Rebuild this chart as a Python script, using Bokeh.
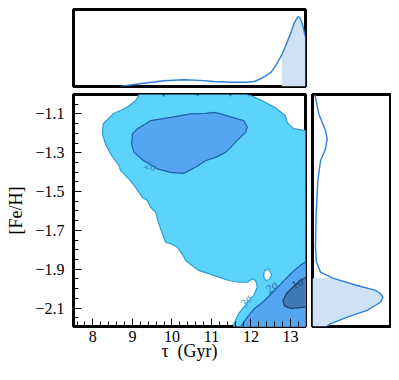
import numpy as np
from bokeh.plotting import figure
from bokeh.layouts import column, row
from bokeh.models import FixedTicker, Range1d
from bokeh.core.properties import value
from bokeh.embed import file_html
from bokeh.resources import INLINE

# ---------------- data ----------------
x_ticks = [8, 9, 10, 11, 12, 13]
x_tick_labels = ["8", "9", "10", "11", "12", "13"]
y_ticks = [-1.1, -1.3, -1.5, -1.7, -1.9, -2.1]
y_tick_labels = ["\u22121.1", "\u22121.3", "\u22121.5", "\u22121.7", "\u22121.9", "\u22122.1"]
x_label = "\u03c4\u2002(Gyr)"
y_label = "[Fe/H]"

# 3-sigma (outer) contour
sig3_x = [9.16, 9.71, 9.79, 9.89, 10.55, 10.65, 10.75, 11.38, 11.48, 11.58,
          11.99, 12.29, 12.62, 12.87, 12.92, 13.08, 13.38, 13.45, 13.45, 11.53,
          11.57, 11.69, 11.82, 11.95, 12.07, 12.16, 12.12, 12.03, 11.91, 11.69,
          11.44, 11.19, 10.93, 10.68, 10.51, 10.35, 10.26, 10.14, 9.97, 9.84,
          9.76, 9.67, 9.59, 9.46, 9.38, 9.25, 9.08, 8.91, 8.70, 8.66,
          8.45, 8.32, 8.24, 8.26, 8.52, 8.87, 9.08, 9.16]
sig3_y = [-0.98, -0.98, -1.011, -0.98, -0.98, -1.009, -0.98, -0.98, -1.009, -0.98,
          -1.006, -1.032, -1.068, -1.109, -1.145, -1.176, -1.186, -1.19, -2.25, -2.25,
          -2.181, -2.129, -2.095, -2.061, -2.035, -1.992, -1.958, -1.949, -1.967, -1.967,
          -1.958, -1.941, -1.923, -1.906, -1.881, -1.855, -1.821, -1.787, -1.769, -1.761,
          -1.718, -1.666, -1.607, -1.581, -1.546, -1.529, -1.478, -1.435, -1.392, -1.366,
          -1.306, -1.255, -1.203, -1.152, -1.099, -1.066, -1.032, -1.006]
hole_x = [12.34, 12.44, 12.52, 12.47, 12.37, 12.32]
hole_y = [-1.907, -1.899, -1.927, -1.953, -1.958, -1.937]

# 2-sigma contours (upper blob and lower-right region)
sig2a_x = [8.98, 9.00, 9.12, 9.46, 9.97, 10.47, 10.85, 11.05, 11.19, 11.53,
           11.82, 11.91, 11.86, 11.69, 11.53, 11.36, 11.10, 10.85, 10.60, 10.43,
           10.30, 9.97, 9.63, 9.29, 9.04]
sig2a_y = [-1.253, -1.203, -1.178, -1.135, -1.118, -1.100, -1.097, -1.092, -1.097, -1.118,
           -1.135, -1.169, -1.195, -1.229, -1.263, -1.298, -1.324, -1.341, -1.375, -1.392,
           -1.406, -1.401, -1.383, -1.341, -1.298]
sig2b_x = [11.70, 11.74, 11.91, 12.09, 12.32, 12.55, 12.79, 13.04, 13.30, 13.45, 13.45]
sig2b_y = [-2.25, -2.195, -2.147, -2.102, -2.066, -2.020, -1.968, -1.917, -1.872, -1.855, -2.25]

# 1-sigma contour
sig1_x = [13.45, 13.25, 13.05, 12.90, 12.81, 12.85, 13.00, 13.20, 13.45]
sig1_y = [-1.935, -1.958, -1.994, -2.025, -2.061, -2.089, -2.102, -2.099, -2.092]

# contour labels
lab_text = ["2\u03c3", "3\u03c3", "2\u03c3", "1\u03c3"]
lab_x = [9.46, 11.88, 12.52, 13.17]
lab_y = [-1.366, -2.064, -1.992, -1.972]
lab_angle = [-0.3, 0.9, 0.7, 0.6]
lab_color = ["#3f86c8", "#3aa6d6", "#2a66b0", "#1d4a80"]

# marginal of tau
tau_grid = [8.70, 9.00, 9.29, 9.80, 10.30, 10.70, 11.06, 11.50, 11.90, 12.10,
            12.24, 12.38, 12.51, 12.62, 12.78, 12.87, 13.00, 13.10, 13.19, 13.24,
            13.30, 13.38]
tau_pdf = [0.0, 0.022, 0.043, 0.075, 0.087, 0.080, 0.065, 0.056, 0.056, 0.068,
           0.100, 0.140, 0.186, 0.265, 0.410, 0.520, 0.684, 0.830, 0.909, 0.890,
           0.814, 0.640]
tau_shade_min = 12.78

# marginal of [Fe/H]
feh_grid = [-1.000, -1.015, -1.100, -1.186, -1.229, -1.280, -1.341, -1.444, -1.615, -1.787,
            -1.864, -1.915, -1.946, -1.984, -2.009, -2.025, -2.044, -2.070, -2.112, -2.147,
            -2.181, -2.195]
feh_pdf = [0.030, 0.038, 0.081, 0.167, 0.188, 0.167, 0.103, 0.068, 0.047, 0.038,
           0.051, 0.103, 0.260, 0.573, 0.808, 0.870, 0.902, 0.872, 0.701, 0.445,
           0.231, 0.180]
feh_shade_max = -1.946

# ---------------- styles ----------------
SERIF = "Liberation Serif"
C3_FILL, C3_LINE = "#5cd3fa", "#2b9fcf"
C2_FILL, C2_LINE = "#55a6f0", "#1f5fa8"
C1_FILL, C1_LINE = "#3f78b4", "#1a3f70"
M_LINE, M_FILL = "#2f7ed8", "#cfe1f4"

x_range = Range1d(7.51, 13.38)
y_range = Range1d(-2.195, -1.0)

# ---------------- main panel ----------------
p = figure(frame_width=232, frame_height=232, x_range=x_range, y_range=y_range,
           output_backend="svg", toolbar_location=None,
           min_border_left=73, min_border_right=3, min_border_top=4, min_border_bottom=46)
p.grid.visible = False
p.outline_line_color = "black"
p.outline_line_width = 3
p.outline_line_alpha = 1

p.patch(sig3_x, sig3_y, fill_color=C3_FILL, line_color=C3_LINE, line_width=1.2)
p.patch(hole_x, hole_y, fill_color="white", line_color=C3_LINE, line_width=1.2)
p.patch(sig2a_x, sig2a_y, fill_color=C2_FILL, line_color=C2_LINE, line_width=1.2)
p.patch(sig2b_x, sig2b_y, fill_color=C2_FILL, line_color=C2_LINE, line_width=1.2)
p.patch(sig1_x, sig1_y, fill_color=C1_FILL, line_color=C1_LINE, line_width=1.2)
p.text(x=lab_x, y=lab_y, text=lab_text, angle=lab_angle, text_color=lab_color,
       text_font=value(SERIF), text_font_size="12px", text_font_style="italic",
       text_align="center", text_baseline="middle")

p.xaxis.ticker = FixedTicker(ticks=x_ticks,
                             minor_ticks=list(np.round(np.arange(7.6, 13.41, 0.2), 2)))
p.yaxis.ticker = FixedTicker(ticks=y_ticks,
                             minor_ticks=list(np.round(np.arange(-2.2, -0.99, 0.05), 2)))
p.xaxis.major_label_overrides = dict(zip(x_ticks, x_tick_labels))
p.yaxis.major_label_overrides = dict(zip(y_ticks, y_tick_labels))
p.xaxis.axis_label = x_label
p.yaxis.axis_label = y_label
for ax in (p.xaxis[0], p.yaxis[0]):
    ax.axis_line_color = None
    ax.major_tick_in = 8
    ax.major_tick_out = 0
    ax.minor_tick_in = 5
    ax.minor_tick_out = 0
    ax.major_tick_line_width = 1
    ax.minor_tick_line_width = 1
    ax.major_tick_line_color = "black"
    ax.minor_tick_line_color = "black"
    ax.major_label_text_font = SERIF
    ax.major_label_text_font_size = "16px"
    ax.major_label_text_color = "black"
    ax.axis_label_text_font = SERIF
    ax.axis_label_text_font_size = "18px"
    ax.axis_label_text_font_style = "normal"
    ax.axis_label_text_color = "black"
p.xaxis.major_label_standoff = 4
p.xaxis.axis_label_standoff = -4
p.yaxis.major_label_standoff = 9
p.yaxis.axis_label_standoff = 6

# ---------------- top marginal ----------------
pt = figure(frame_width=232, frame_height=77, x_range=x_range, y_range=Range1d(0, 1),
            x_axis_location=None, y_axis_location=None,
            output_backend="svg", toolbar_location=None,
            min_border_left=73, min_border_right=3, min_border_top=9, min_border_bottom=4)
pt.grid.visible = False
pt.outline_line_color = "black"
pt.outline_line_width = 3
pt.outline_line_alpha = 1
tau_sx = [t for t in tau_grid if t >= tau_shade_min]
tau_sy = [v for t, v in zip(tau_grid, tau_pdf) if t >= tau_shade_min]
pt.varea(x=tau_sx, y1=0, y2=tau_sy, fill_color=M_FILL)
pt.line(tau_grid, tau_pdf, line_color=M_LINE, line_width=1.4)

# ---------------- right marginal ----------------
pr = figure(frame_width=78, frame_height=232, x_range=Range1d(0, 1), y_range=y_range,
            x_axis_location=None, y_axis_location=None,
            output_backend="svg", toolbar_location=None,
            min_border_left=4, min_border_right=1, min_border_top=4, min_border_bottom=46)
pr.grid.visible = False
pr.outline_line_color = "black"
pr.outline_line_width = 3
pr.outline_line_alpha = 1
feh_sy = [f for f in feh_grid if f <= feh_shade_max]
feh_sx = [v for f, v in zip(feh_grid, feh_pdf) if f <= feh_shade_max]
pr.harea(y=feh_sy, x1=0, x2=feh_sx, fill_color=M_FILL)
pr.line(feh_pdf, feh_grid, line_color=M_LINE, line_width=1.4)

layout = column(pt, row(p, pr))
open("out.html", "w").write(file_html(layout, INLINE))
